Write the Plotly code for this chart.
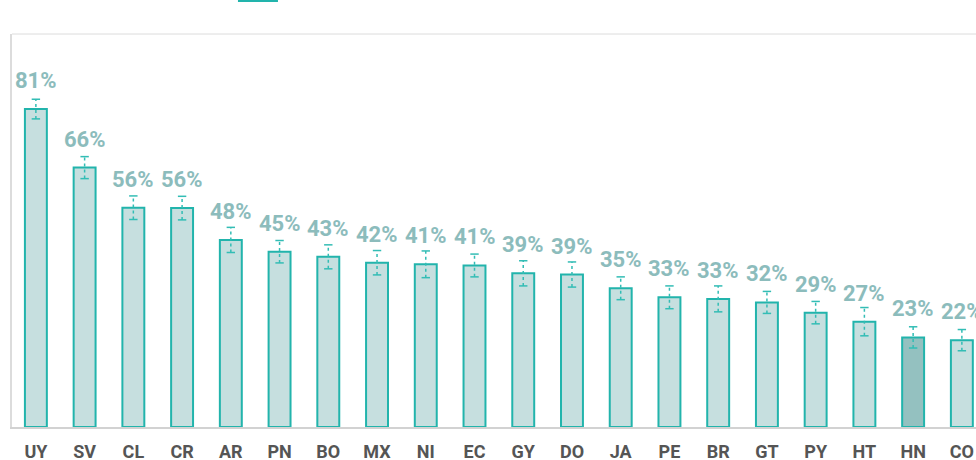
import plotly.graph_objects as go

countries = ["UY", "SV", "CL", "CR", "AR", "PN", "BO", "MX", "NI", "EC",
             "GY", "DO", "JA", "PE", "BR", "GT", "PY", "HT", "HN", "CO"]
values = [80.9, 66.0, 55.8, 55.7, 47.6, 44.6, 43.3, 41.8, 41.4, 41.1,
          39.1, 38.8, 35.3, 33.0, 32.6, 31.7, 29.1, 26.8, 22.8, 22.1]
errors = [2.5, 2.8, 3.0, 3.0, 3.2, 2.85, 3.05, 3.1, 3.4, 2.9,
          3.2, 3.2, 2.9, 2.9, 3.3, 2.8, 2.85, 3.6, 2.7, 2.7]
highlight = "HN"

BAR_FILL = "#c6dfdf"
BAR_HL = "#94c1c0"
BAR_LINE = "#22b4ac"
ERR_COLOR = "#33bdb5"
LABEL_COLOR = "#8cbcbc"

fill_colors = [BAR_HL if c == highlight else BAR_FILL for c in countries]

fig = go.Figure()
fig.add_trace(go.Bar(
    x=countries, y=values, width=0.45,
    marker=dict(color=fill_colors, line=dict(color=BAR_LINE, width=2)),
    hoverinfo="skip", showlegend=False,
))

# dotted error bars built from values +/- errors
ex, ey = [], []
cx, cy = [], []
for c, v, e in zip(countries, values, errors):
    ex += [c, c, None]
    ey += [v - e, v + e, None]
    cx += [c, c]
    cy += [v - e, v + e]
fig.add_trace(go.Scatter(
    x=ex, y=ey, mode="lines",
    line=dict(color=ERR_COLOR, width=1.5, dash="dot"),
    hoverinfo="skip", showlegend=False,
))
fig.add_trace(go.Scatter(
    x=cx, y=cy, mode="markers",
    marker=dict(symbol="line-ew", size=6, line=dict(color=ERR_COLOR, width=1.5)),
    hoverinfo="skip", showlegend=False,
))

for c, v in zip(countries, values):
    fig.add_annotation(
        x=c, y=v, text=f"{round(v)}%", showarrow=False,
        yanchor="bottom", yshift=14,
        font=dict(family="Roboto", size=22, color=LABEL_COLOR, weight="bold"),
    )

# partially visible header (cut off at top of the frame)
fig.add_annotation(
    xref="paper", yref="paper", x=0.003, y=1.0738, xanchor="left", yanchor="bottom",
    text="Fuente: Colombia", showarrow=False,
    font=dict(family="Roboto", size=18, color="#9a9a9a"),
)
fig.add_shape(type="rect", xref="paper", yref="paper",
              x0=0.2344, x1=0.2759, y0=1.0814, y1=1.12,
              fillcolor=BAR_LINE, line=dict(width=0))
# top frame line
fig.add_shape(type="line", xref="paper", yref="paper", x0=0, x1=1, y0=1, y1=1,
              line=dict(color="#dcdcdc", width=1))

fig.update_layout(
    width=976, height=460,
    margin=dict(l=12, r=0, t=34, b=33),
    plot_bgcolor="white", paper_bgcolor="white",
    font=dict(family="Roboto"),
    xaxis=dict(
        range=[-0.49, 19.29], showgrid=False, automargin=False,
        showline=True, linecolor="#d2d2d2", linewidth=2,
        ticks="outside", ticklen=7, tickcolor="rgba(0,0,0,0)",
        tickfont=dict(family="Roboto", size=18, color="#555555", weight="bold"),
    ),
    yaxis=dict(
        range=[0, 100], showgrid=False, zeroline=False, automargin=False,
        showline=True, linecolor="#dcdcdc", linewidth=2,
        showticklabels=False, ticks="",
    ),
)

fig.write_html("out.html", config={"displayModeBar": False},
               post_script="document.body.style.margin='0';document.body.style.overflow='hidden';")
